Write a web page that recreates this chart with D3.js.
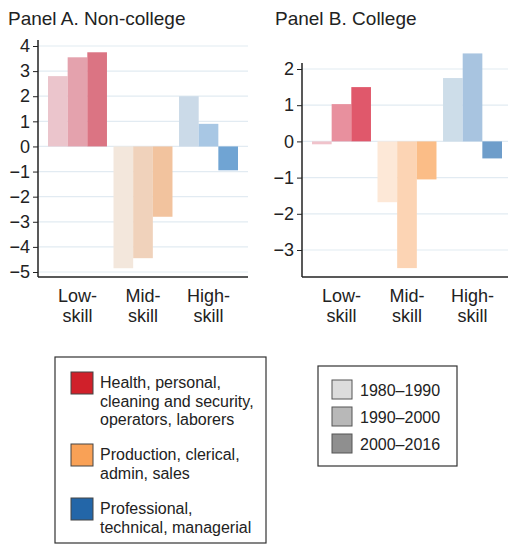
<!DOCTYPE html>
<html><head><meta charset="utf-8">
<script src="https://cdn.jsdelivr.net/npm/d3@7"></script>
<style>body{margin:0;background:#fff;font-family:"Liberation Sans",Arial,sans-serif}</style>
</head><body>
<svg id="c" width="508" height="545"></svg>
<script>
const groups = ["Low", "Mid", "High"];
const periods = ["1980–1990", "1990–2000", "2000–2016"];
const nonCollege = [[2.8, 3.55, 3.75], [-4.85, -4.45, -2.8], [2.0, 0.9, -0.95]];
const college = [[-0.08, 1.03, 1.5], [-1.68, -3.5, -1.05], [1.75, 2.43, -0.47]];
const ticksA = [4, 3, 2, 1, 0, -1, -2, -3, -4, -5];
const ticksB = [2, 1, 0, -1, -2, -3];
const colorsA = [["#ebc5cc", "#e4a2ad", "#db7483"], ["#f3e7dc", "#f0d2bb", "#f2c39e"], ["#cbdae8", "#a8c7e4", "#70a4d3"]];
const colorsB = [["#f0c3cb", "#e8909e", "#e0586b"], ["#fde8d7", "#fcd4b4", "#fbbd87"], ["#cddde9", "#a8c4e0", "#6e9dca"]];
const catLegend = [["Health, personal,", "cleaning and security,", "operators, laborers"], ["Production, clerical,", "admin, sales"], ["Professional,", "technical, managerial"]];
const catColors = ["#d0202a", "#f9a156", "#2366a8"];
const periodGrays = ["#dcdcdc", "#b8b8b8", "#8f8f8f"];

const svg = d3.select("#c");

function panel(title, tx, data, colors, ticks, x0, x1, yTop, yBot, domain, g0, g1) {
  svg.append("text").attr("x", tx).attr("y", 25).attr("font-size", 19).attr("fill", "#222").text(title);
  const y = d3.scaleLinear().domain(domain).range([yBot, yTop]);
  const xg = d3.scaleBand().domain(groups).range([g0, g1]).paddingInner(0.1).paddingOuter(0);
  const xs = d3.scaleBand().domain(d3.range(3)).range([0, xg.bandwidth()]);
  const g = svg.append("g");
  g.selectAll(".grid").data(ticks).join("line")
    .attr("x1", x0).attr("x2", x1).attr("y1", d => y(d)).attr("y2", d => y(d))
    .attr("stroke", "#e2ebf2").attr("stroke-width", 1.2);
  data.forEach((vals, gi) => {
    g.selectAll(".b" + gi).data(vals).join("rect")
      .attr("x", (d, i) => xg(groups[gi]) + xs(i)).attr("width", xs.bandwidth())
      .attr("y", d => y(Math.max(0, d))).attr("height", d => Math.abs(y(d) - y(0)))
      .attr("fill", (d, i) => colors[gi][i]);
  });
  const ax = svg.append("g").attr("transform", `translate(${x0},0)`)
    .call(d3.axisLeft(y).tickValues(ticks).tickSize(5).tickPadding(3).tickFormat(d => d < 0 ? "−" + Math.abs(d) : d));
  ax.attr("font-size", 18).attr("font-family", "Liberation Sans, Arial");
  ax.select(".domain").attr("d", `M0,${yTop - 6}V${277}`).attr("stroke", "#222").attr("stroke-width", 1.5);
  ax.selectAll("text").attr("fill", "#222");
  ax.selectAll("line").attr("stroke", "#222");
  svg.append("line").attr("x1", x0).attr("x2", x1).attr("y1", 277).attr("y2", 277).attr("stroke", "#222").attr("stroke-width", 1.5);
  groups.forEach(gr => {
    const cx = xg(gr) + xg.bandwidth() / 2;
    svg.append("text").attr("x", cx).attr("y", 302).attr("text-anchor", "middle").attr("font-size", 18).attr("fill", "#222").text(gr + "-");
    svg.append("text").attr("x", cx).attr("y", 322).attr("text-anchor", "middle").attr("font-size", 18).attr("fill", "#222").text("skill");
  });
}
panel("Panel A. Non-college", 8, nonCollege, colorsA, ticksA, 38, 248, 46, 272, [-5, 4], 48, 238);
panel("Panel B. College", 275, college, colorsB, ticksB, 302, 508, 69, 250, [-3, 2], 312, 502);

// category legend
svg.append("rect").attr("x", 55).attr("y", 357).attr("width", 211).attr("height", 186).attr("fill", "none").attr("stroke", "#333").attr("stroke-width", 1.2);
const swY = [372, 444, 498];
catLegend.forEach((lines, i) => {
  svg.append("rect").attr("x", 71).attr("y", swY[i]).attr("width", 22).attr("height", 22).attr("fill", catColors[i]).attr("stroke", "#444");
  lines.forEach((t, j) => svg.append("text").attr("x", 100).attr("y", swY[i] + 16 + j * 18.7).attr("font-size", 16).attr("fill", "#222").text(t));
});
// period legend
svg.append("rect").attr("x", 318).attr("y", 366).attr("width", 139).attr("height", 100).attr("fill", "none").attr("stroke", "#333").attr("stroke-width", 1.2);
periods.forEach((p, i) => {
  svg.append("rect").attr("x", 332).attr("y", 380 + i * 27).attr("width", 20).attr("height", 19).attr("fill", periodGrays[i]).attr("stroke", "#555");
  svg.append("text").attr("x", 360).attr("y", 396 + i * 27).attr("font-size", 16).attr("fill", "#222").text(p);
});
</script>
</body></html>
